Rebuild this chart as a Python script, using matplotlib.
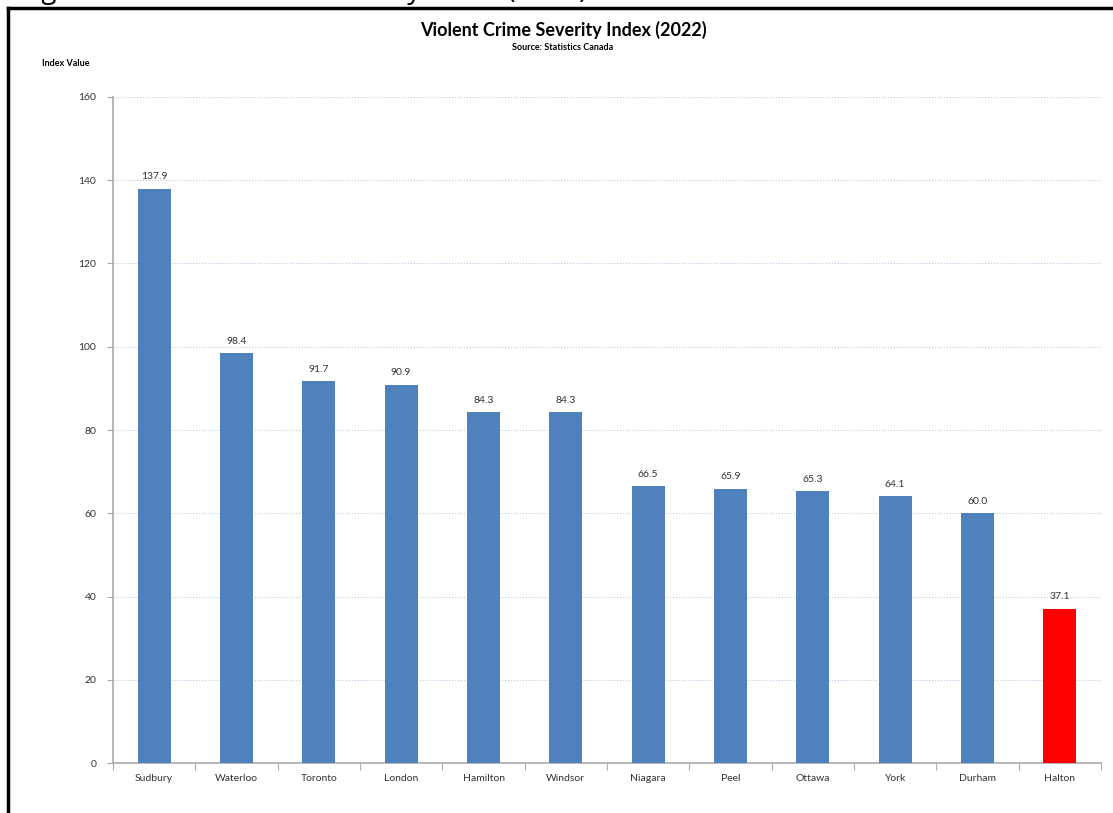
"""Violent Crime Severity Index (2022) bar chart -> out.png"""
import numpy as np, matplotlib
matplotlib.use("Agg"); import matplotlib.pyplot as plt
from matplotlib.lines import Line2D

regions = ["Sudbury", "Waterloo", "Toronto", "London", "Hamilton", "Windsor",
           "Niagara", "Peel", "Ottawa", "York", "Durham", "Halton"]
index_vals = [137.9, 98.4, 91.7, 90.9, 84.3, 84.3, 66.5, 65.9, 65.3, 64.1, 60.0, 37.1]
highlight = "Halton"
y_ticks = [0, 20, 40, 60, 80, 100, 120, 140, 160]

plt.rcParams['font.family'] = ['Lato', 'DejaVu Sans']
fig = plt.figure(figsize=(11.13, 8.13), dpi=100)
ax = fig.add_axes([113/1113, 1 - 763/813, (1101 - 113)/1113, (763 - 97)/813])

x = np.arange(len(regions))
cols = ['#FF0000' if r == highlight else '#4F81BD' for r in regions]
bars = ax.bar(x, index_vals, width=0.4, color=cols, zorder=3)
for b, v in zip(bars, index_vals):
    ax.text(b.get_x() + b.get_width()/2, v + 1.8, f"{v:.1f}", ha='center', va='bottom',
            fontsize=7.5, color='#333333')

ax.set_xlim(-0.5, len(regions) - 0.5); ax.set_ylim(0, 160)
ax.set_yticks(y_ticks); ax.set_yticklabels([str(t) for t in y_ticks], fontsize=7.5, color='#333333')
ax.set_xticks(np.arange(len(regions) + 1) - 0.5); ax.set_xticklabels([])
ax.set_xticks(x, minor=True); ax.set_xticklabels(regions, minor=True, fontsize=7.5, color='#333333')
ax.tick_params(axis='x', which='major', length=5, color='#aaaaaa')
ax.tick_params(axis='x', which='minor', length=0, pad=8)
ax.tick_params(axis='y', length=4, color='#aaaaaa', pad=8)
ax.grid(axis='y', color='#b8cce4', ls=':', lw=0.8, zorder=0)
for s in ['top', 'right']: ax.spines[s].set_visible(False)
for s in ['left', 'bottom']: ax.spines[s].set_color('#aaaaaa'); ax.spines[s].set_linewidth(1.2)

fig.text(563/1113, 1 - 30/813, "Violent Crime Severity Index (2022)", ha='center', va='center',
         fontsize=13, fontweight='bold')
fig.text(563/1113, 1 - 47/813, "Source: Statistics Canada", ha='center', va='center',
         fontsize=6.5, fontweight='bold')
fig.text(42/1113, 1 - 63/813, "Index Value", ha='left', va='center', fontsize=6.5, fontweight='bold')

# caption of the surrounding document, cut off at the top as in the screenshot, and the frame
fig.text(20/1113, 1 + 2/813, "Figure 3: Violent Crime Severity Index (2022)", ha='left',
         va='baseline', fontsize=20, family=['Open Sans', 'DejaVu Sans'])
fig.add_artist(Line2D([8/1113, 8/1113], [0, 1 - 8/813], color='black', lw=2.5))
fig.add_artist(Line2D([8/1113, 1], [1 - 8/813, 1 - 8/813], color='black', lw=2.5))

fig.savefig("out.png", dpi=100)
